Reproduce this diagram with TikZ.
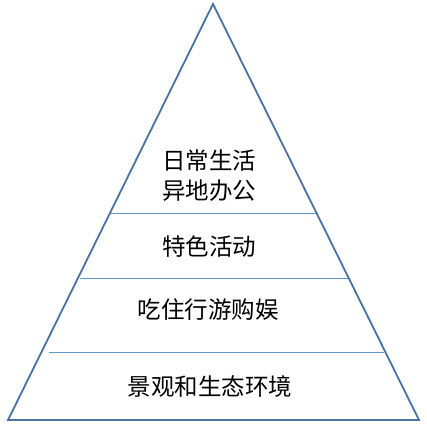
\documentclass[tikz,border=0pt]{standalone}
\usepackage{fontspec}
\setmainfont{Noto Sans CJK SC}
\definecolor{edgeblue}{RGB}{74, 114, 160}
\definecolor{lineblue}{RGB}{96, 150, 205}
\usepackage{tikz}
\usetikzlibrary{positioning,calc}

\begin{document}
\begin{tikzpicture}[x=1pt, y=1pt,
            outline/.style={draw=edgeblue, line width=1.8pt, line join=miter},
            divider/.style={draw=lineblue, line width=0.9pt},
            layer/.style={font=\fontsize{23.5}{30}\selectfont, align=center, inner sep=0pt},
        ]

            \useasboundingbox (0,0) rectangle (426,427);

            \coordinate (apex)  at (213,423);
            \coordinate (left)  at (8,7);
            \coordinate (right) at (419,7);
            \draw[outline] (left) -- (apex) -- (right) -- cycle;

            \coordinate (d1l) at (111,213.5);
            \coordinate (d1r) at (316,213.5);
            \coordinate (d2l) at (80,149);
            \coordinate (d2r) at (348,149);
            \coordinate (d3l) at (49,75);
            \coordinate (d3r) at (384,75);
            \draw[divider] (d1l) -- (d1r);
            \draw[divider] (d2l) -- (d2r);
            \draw[divider] (d3l) -- (d3r);

            \node [layer] (daily)    at (209,251) {日常生活\\异地办公};
            \node [layer] (events)   at (209,180) {特色活动};
            \node [layer] (tourism)  at (208,117) {吃住行游购娱};
            \node [layer] (scenery)  at (210,40)  {景观和生态环境};

        \end{tikzpicture}
\end{document}
